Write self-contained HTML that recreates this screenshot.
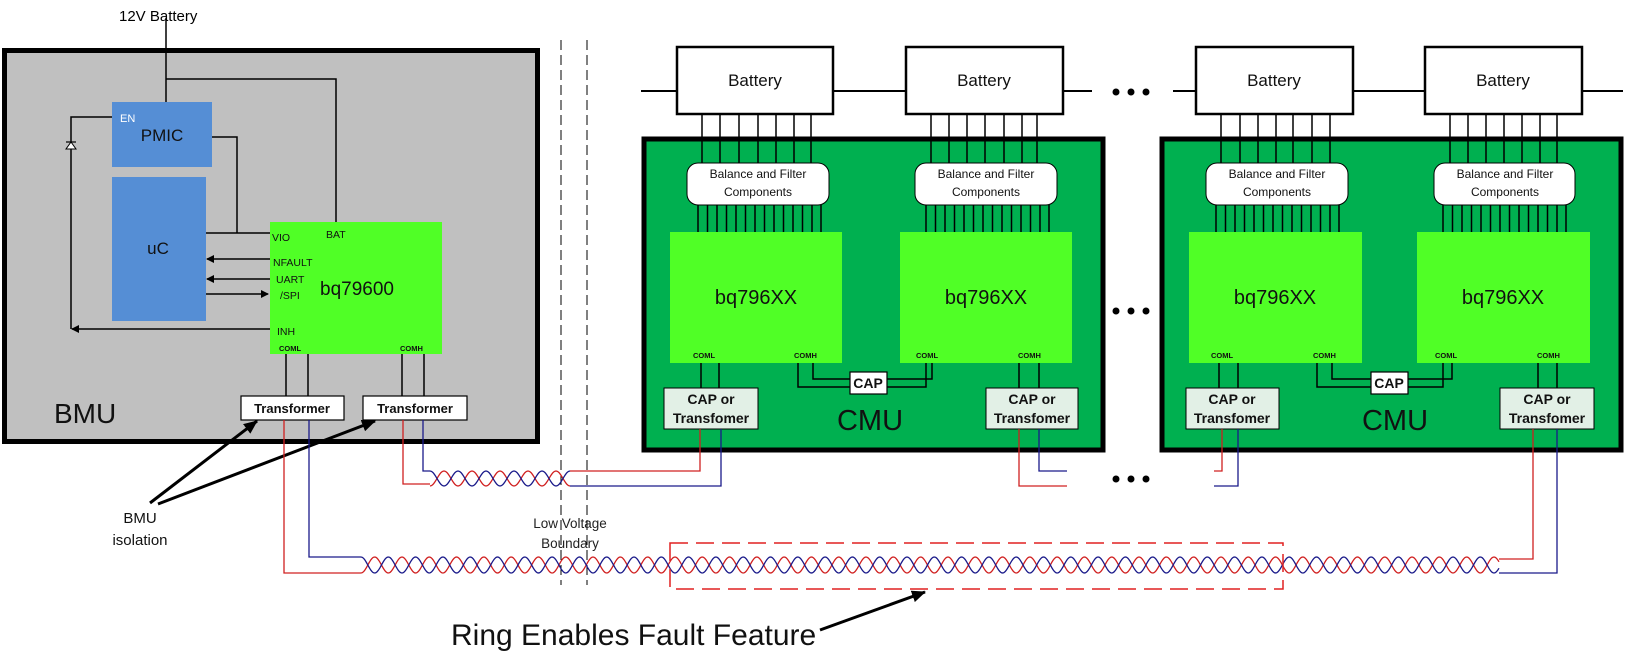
<!DOCTYPE html>
<html><head><meta charset="utf-8"><style>
html,body{margin:0;padding:0;background:#fff;}
svg{display:block;}
text{font-family:"Liberation Sans",sans-serif;}
</style></head><body>
<svg width="1625" height="655" viewBox="0 0 1625 655" xmlns="http://www.w3.org/2000/svg">
<defs>
<marker id="ah" markerWidth="8" markerHeight="8" refX="7" refY="4" orient="auto" markerUnits="userSpaceOnUse"><path d="M0,0 L8,4 L0,8 z" fill="#000"/></marker>
<marker id="ah2" markerWidth="14" markerHeight="12" refX="13" refY="6" orient="auto" markerUnits="userSpaceOnUse"><path d="M0,0 L14,6 L0,12 z" fill="#000"/></marker>
</defs>

<text x="119" y="21" font-size="15">12V Battery</text>
<rect x="4.5" y="50.5" width="533" height="391" fill="#c0c0c0" stroke="#000" stroke-width="5"/>
<line x1="166" y1="18" x2="166" y2="102" stroke="#000" stroke-width="1.5"/>
<polyline points="166,79 336,79 336,222" fill="none" stroke="#000" stroke-width="1.5"/>
<rect x="112" y="102" width="100" height="65" fill="#558ed5"/>
<text x="120" y="122" font-size="11" fill="#fff">EN</text>
<text x="162" y="141" font-size="17" text-anchor="middle" fill="#111">PMIC</text>
<rect x="112" y="177" width="94" height="144" fill="#558ed5"/>
<text x="158" y="254" font-size="17" text-anchor="middle" fill="#111">uC</text>
<polyline points="212,137 237,137 237,233" fill="none" stroke="#000" stroke-width="1.5"/>
<polyline points="112,117 71,117 71,329" fill="none" stroke="#000" stroke-width="1.5"/>
<path d="M66,149 L76,149 L71,142 z" fill="#fff" stroke="#000" stroke-width="1"/>
<line x1="66" y1="142" x2="76" y2="142" stroke="#000" stroke-width="1.2"/>
<rect x="270" y="222" width="172" height="132" fill="#50ff26"/>
<line x1="206" y1="233" x2="270" y2="233" stroke="#000" stroke-width="1.5"/>
<line x1="270" y1="259" x2="207" y2="259" stroke="#000" stroke-width="1.5" marker-end="url(#ah)"/>
<line x1="270" y1="279" x2="207" y2="279" stroke="#000" stroke-width="1.5" marker-end="url(#ah)"/>
<line x1="206" y1="294" x2="268" y2="294" stroke="#000" stroke-width="1.5" marker-end="url(#ah)"/>
<line x1="270" y1="329" x2="72" y2="329" stroke="#000" stroke-width="1.5" marker-end="url(#ah)"/>
<g font-size="10.5" fill="#111">
<text x="272" y="241">VIO</text><text x="326" y="238">BAT</text>
<text x="273" y="266">NFAULT</text><text x="276" y="283">UART</text><text x="280" y="299">/SPI</text>
<text x="277" y="335">INH</text></g>
<text x="320" y="295" font-size="19" fill="#111">bq79600</text>
<g font-size="7.5" font-weight="bold" fill="#111"><text x="279" y="351">COML</text><text x="400" y="351">COMH</text></g>
<g stroke="#000" stroke-width="1.5"><line x1="286" y1="354" x2="286" y2="396"/><line x1="308" y1="354" x2="308" y2="396"/><line x1="402" y1="354" x2="402" y2="396"/><line x1="424" y1="354" x2="424" y2="396"/></g>
<rect x="241" y="396" width="103" height="24" fill="#fff" stroke="#000" stroke-width="1.2"/>
<rect x="363" y="396" width="104" height="24" fill="#fff" stroke="#000" stroke-width="1.2"/>
<g font-size="13" font-weight="bold" text-anchor="middle" fill="#111"><text x="292" y="413">Transformer</text><text x="415" y="413">Transformer</text></g>
<text x="54" y="423" font-size="28" fill="#111">BMU</text>

<line x1="150" y1="503" x2="257" y2="421" stroke="#000" stroke-width="3" marker-end="url(#ah2)"/>
<line x1="158" y1="504" x2="375" y2="421" stroke="#000" stroke-width="3" marker-end="url(#ah2)"/>
<g font-size="15" text-anchor="middle" fill="#111"><text x="140" y="523">BMU</text><text x="140" y="545">isolation</text></g>

<g stroke="#000" stroke-width="1" stroke-dasharray="10,5"><line x1="561" y1="40" x2="561" y2="585"/><line x1="587" y1="40" x2="587" y2="585"/></g>
<g font-size="13.5" text-anchor="middle" fill="#222"><text x="570" y="528">Low Voltage</text><text x="570" y="548">Boundary</text></g>

<g stroke="#000" stroke-width="2" fill="none">
<line x1="641" y1="91" x2="1092" y2="91"/><line x1="1173" y1="91" x2="1623" y2="91"/></g>
<g stroke="#000" stroke-width="2.5" fill="#fff">
<rect x="677" y="47" width="156" height="67"/><rect x="906" y="47" width="157" height="67"/>
<rect x="1196" y="47" width="157" height="67"/><rect x="1425" y="47" width="157" height="67"/></g>
<g font-size="17" text-anchor="middle" fill="#111"><text x="755" y="86">Battery</text><text x="984" y="86">Battery</text><text x="1274" y="86">Battery</text><text x="1503" y="86">Battery</text></g>
<g fill="#000"><circle cx="1116" cy="92" r="3.5"/><circle cx="1131" cy="92" r="3.5"/><circle cx="1146" cy="92" r="3.5"/>
<circle cx="1116" cy="311" r="3.5"/><circle cx="1131" cy="311" r="3.5"/><circle cx="1146" cy="311" r="3.5"/>
<circle cx="1116" cy="479" r="3.5"/><circle cx="1131" cy="479" r="3.5"/><circle cx="1146" cy="479" r="3.5"/></g>

<rect x="644" y="139" width="459" height="311" fill="#00b050" stroke="#000" stroke-width="5"/>
<rect x="1162" y="139" width="459" height="311" fill="#00b050" stroke="#000" stroke-width="5"/>

<g stroke="#000" stroke-width="1.5">
<line x1="702" y1="114" x2="702" y2="163"/><line x1="720" y1="114" x2="720" y2="163"/><line x1="739" y1="114" x2="739" y2="163"/><line x1="758" y1="114" x2="758" y2="163"/><line x1="776" y1="114" x2="776" y2="163"/><line x1="794" y1="114" x2="794" y2="163"/><line x1="811" y1="114" x2="811" y2="163"/>
<line x1="931" y1="114" x2="931" y2="163"/><line x1="949" y1="114" x2="949" y2="163"/><line x1="967" y1="114" x2="967" y2="163"/><line x1="985" y1="114" x2="985" y2="163"/><line x1="1004" y1="114" x2="1004" y2="163"/><line x1="1022" y1="114" x2="1022" y2="163"/><line x1="1037" y1="114" x2="1037" y2="163"/>
<line x1="1221" y1="114" x2="1221" y2="163"/><line x1="1240" y1="114" x2="1240" y2="163"/><line x1="1258" y1="114" x2="1258" y2="163"/><line x1="1276" y1="114" x2="1276" y2="163"/><line x1="1293" y1="114" x2="1293" y2="163"/><line x1="1312" y1="114" x2="1312" y2="163"/><line x1="1330" y1="114" x2="1330" y2="163"/>
<line x1="1450" y1="114" x2="1450" y2="163"/><line x1="1468" y1="114" x2="1468" y2="163"/><line x1="1486" y1="114" x2="1486" y2="163"/><line x1="1504" y1="114" x2="1504" y2="163"/><line x1="1522" y1="114" x2="1522" y2="163"/><line x1="1540" y1="114" x2="1540" y2="163"/><line x1="1557" y1="114" x2="1557" y2="163"/>
</g>
<g stroke="#000" stroke-width="1.5">
<path d="M698,205V232M707.5,205V232M717,205V232M726.5,205V232M736,205V232M745.5,205V232M755,205V232M764.5,205V232M774,205V232M783.5,205V232M793,205V232M802.5,205V232M812,205V232M821,205V232"/>
<path transform="translate(228,0)" d="M698,205V232M707.5,205V232M717,205V232M726.5,205V232M736,205V232M745.5,205V232M755,205V232M764.5,205V232M774,205V232M783.5,205V232M793,205V232M802.5,205V232M812,205V232M821,205V232"/>
<path transform="translate(518,0)" d="M698,205V232M707.5,205V232M717,205V232M726.5,205V232M736,205V232M745.5,205V232M755,205V232M764.5,205V232M774,205V232M783.5,205V232M793,205V232M802.5,205V232M812,205V232M821,205V232"/>
<path transform="translate(745,0)" d="M698,205V232M707.5,205V232M717,205V232M726.5,205V232M736,205V232M745.5,205V232M755,205V232M764.5,205V232M774,205V232M783.5,205V232M793,205V232M802.5,205V232M812,205V232M821,205V232"/>
</g>
<g fill="#fff" stroke="#000" stroke-width="1">
<rect x="687" y="163" width="142" height="42" rx="11"/><rect x="915" y="163" width="142" height="42" rx="11"/>
<rect x="1206" y="163" width="142" height="42" rx="11"/><rect x="1434" y="163" width="141" height="42" rx="11"/></g>
<g font-size="12" text-anchor="middle" fill="#111">
<text x="758" y="178">Balance and Filter</text><text x="758" y="196">Components</text>
<text x="986" y="178">Balance and Filter</text><text x="986" y="196">Components</text>
<text x="1277" y="178">Balance and Filter</text><text x="1277" y="196">Components</text>
<text x="1505" y="178">Balance and Filter</text><text x="1505" y="196">Components</text></g>

<g fill="#50ff26"><rect x="670" y="232" width="172" height="131"/><rect x="900" y="232" width="172" height="131"/><rect x="1189" y="232" width="173" height="131"/><rect x="1417" y="232" width="173" height="131"/></g>
<g font-size="20" text-anchor="middle" fill="#111"><text x="756" y="304">bq796XX</text><text x="986" y="304">bq796XX</text><text x="1275" y="304">bq796XX</text><text x="1503" y="304">bq796XX</text></g>
<g font-size="7.5" font-weight="bold" fill="#111">
<text x="693" y="358">COML</text><text x="794" y="358">COMH</text><text x="916" y="358">COML</text><text x="1018" y="358">COMH</text>
<text x="1211" y="358">COML</text><text x="1313" y="358">COMH</text><text x="1435" y="358">COML</text><text x="1537" y="358">COMH</text></g>
<g stroke="#000" stroke-width="1.5" fill="none">
<path d="M701,363V388M719,363V388M1019,363V388M1039,363V388M1219,363V388M1238,363V388M1538,363V388M1557,363V388"/>
<path d="M798,363V387H850M813,363V379H850M887,379H932V363M887,387H926V363"/>
<path d="M1317,363V387H1371M1332,363V379H1371M1408,379H1452V363M1408,387H1443V363"/>
</g>
<g fill="#fff" stroke="#000" stroke-width="1.2"><rect x="850" y="372" width="37" height="22"/><rect x="1371" y="372" width="37" height="22"/></g>
<g font-size="14" font-weight="bold" text-anchor="middle" fill="#111"><text x="868" y="388">CAP</text><text x="1389" y="388">CAP</text></g>
<g fill="#e2f0e6" stroke="#000" stroke-width="1"><rect x="664" y="388" width="94" height="41"/><rect x="986" y="388" width="92" height="41"/><rect x="1186" y="388" width="93" height="41"/><rect x="1500" y="388" width="94" height="41"/></g>
<g font-size="14" font-weight="bold" text-anchor="middle" fill="#111">
<text x="711" y="404">CAP or</text><text x="711" y="423">Transfomer</text>
<text x="1032" y="404">CAP or</text><text x="1032" y="423">Transfomer</text>
<text x="1232" y="404">CAP or</text><text x="1232" y="423">Transfomer</text>
<text x="1547" y="404">CAP or</text><text x="1547" y="423">Transfomer</text></g>
<g font-size="29" text-anchor="middle" fill="#111"><text x="870" y="430">CMU</text><text x="1395" y="430">CMU</text></g>

<g fill="none" stroke-width="1.3">
<path d="M284,420V573H361" stroke="#d02020"/>
<path d="M309,420V557H361" stroke="#1a1a8a"/>
<path d="M403,420V484H430" stroke="#d02020"/>
<path d="M423,420V471H430" stroke="#1a1a8a"/>
<path d="M570,471H700V429" stroke="#d02020"/>
<path d="M570,486H721V429" stroke="#1a1a8a"/>
<path d="M1019,429V486H1067" stroke="#d02020"/>
<path d="M1039,429V471H1067" stroke="#1a1a8a"/>
<path d="M1222,429V471H1214" stroke="#d02020"/>
<path d="M1238,429V486H1214" stroke="#1a1a8a"/>
<path d="M1499,559H1533V429" stroke="#d02020"/>
<path d="M1499,573H1557V429" stroke="#1a1a8a"/>
<path id="tpr1" d="" stroke="#d02020"/>
<path id="tpb1" d="" stroke="#1a1a8a"/>
<path id="tpr2" d="" stroke="#d02020"/>
<path id="tpb2" d="" stroke="#1a1a8a"/>
</g>
<rect x="670" y="543" width="613" height="46" fill="none" stroke="#e02020" stroke-width="1.5" stroke-dasharray="18,8"/>

<text x="451" y="645" font-size="30" fill="#111">Ring Enables Fault Feature</text>
<line x1="820" y1="630" x2="925" y2="592" stroke="#000" stroke-width="3" marker-end="url(#ah2)"/>
</svg>
<script>
function tw(x0,x1,c,a,P,s){var d="";for(var x=x0;x<=x1;x+=1){var y=c+s*a*Math.cos(Math.PI*2*(x-x0)/P);d+=(x===x0?"M":"L")+x+","+y.toFixed(2);}return d;}
document.getElementById("tpr1").setAttribute("d",tw(430,570,478.5,7.5,28,1));
document.getElementById("tpb1").setAttribute("d",tw(430,570,478.5,7.5,28,-1));
document.getElementById("tpr2").setAttribute("d",tw(361,1499,565,8,27.3,1));
document.getElementById("tpb2").setAttribute("d",tw(361,1499,565,8,27.3,-1));
</script>
</body></html>
